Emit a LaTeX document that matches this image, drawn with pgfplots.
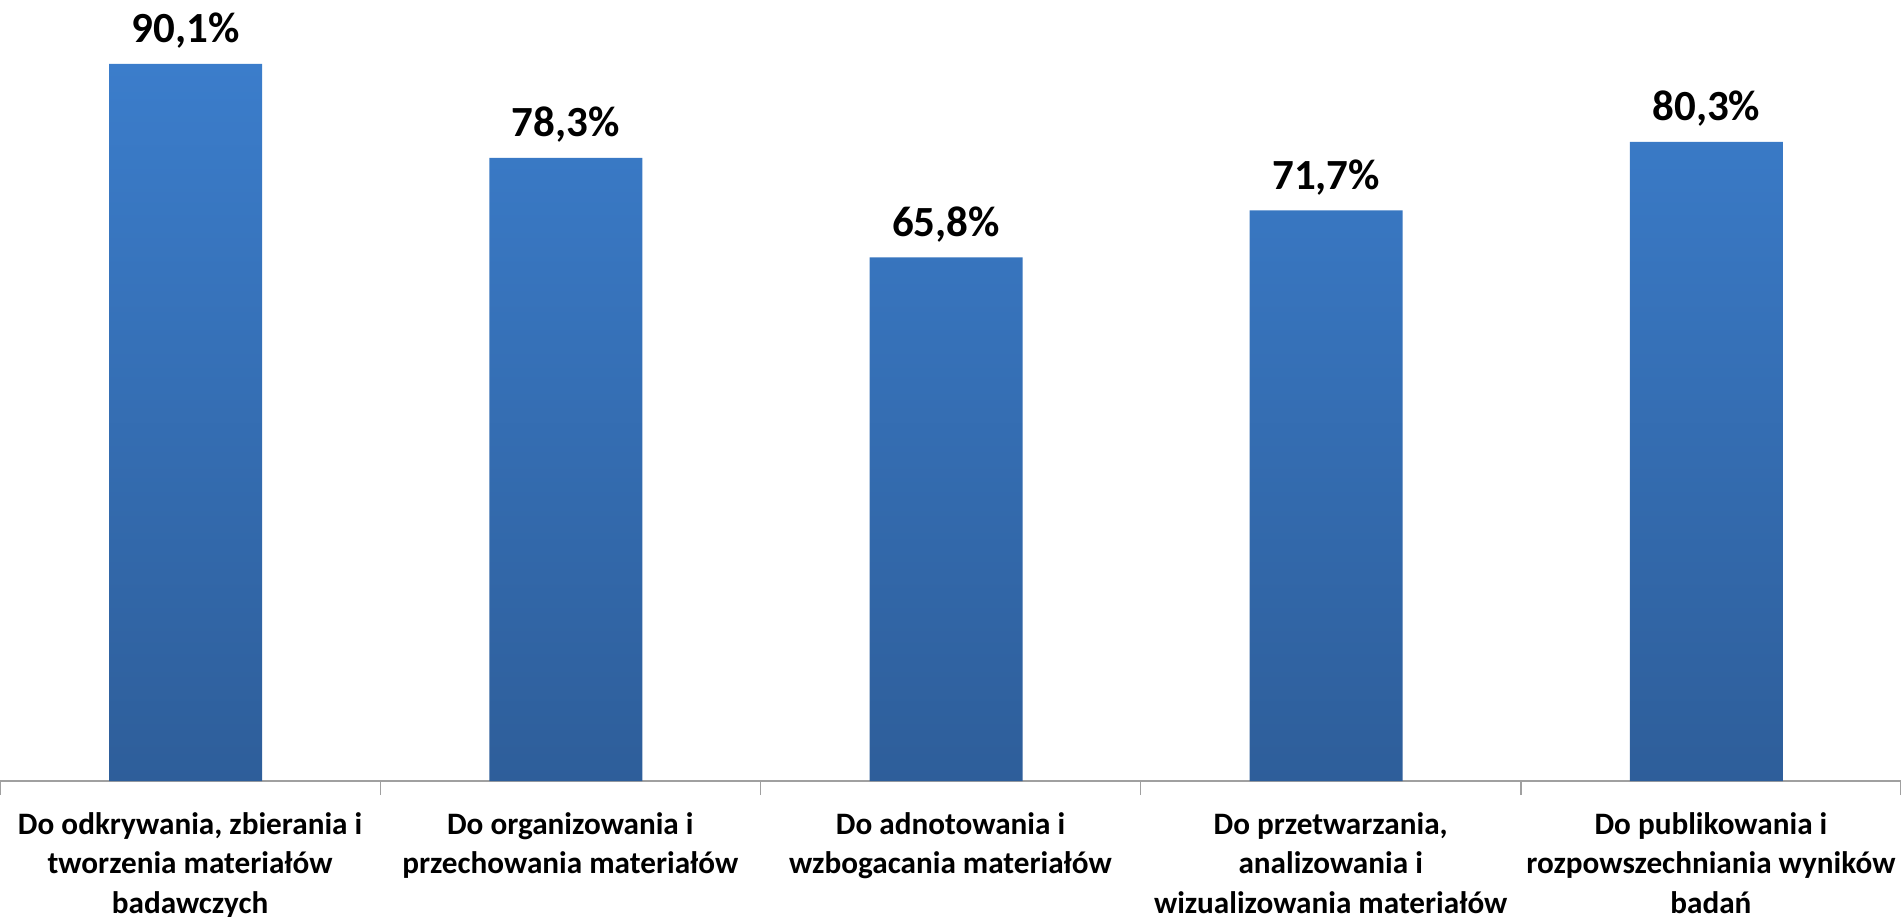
\documentclass[border=0pt]{standalone}
\usepackage{pgfplots}
\pgfplotsset{compat=1.18}
\usepackage{fontspec}
\setmainfont{Carlito}
\definecolor{bartop}{RGB}{59,125,203}
\definecolor{barbot}{RGB}{46,94,154}
\definecolor{axisgray}{RGB}{160,160,160}
\begin{document}
\begin{tikzpicture}
\begin{axis}[
  width=950.5pt, height=390.5pt, scale only axis,
  xmin=-0.5, xmax=4.5, ymin=0, ymax=98.14,
  hide y axis,
  axis x line=bottom,
  x axis line style={-, draw=axisgray, line width=0.7pt},
  xtick={0,1,2,3,4},
  xticklabels={{Do odkrywania, zbierania i\\tworzenia materiałów\\badawczych},
               {Do organizowania i\\przechowania materiałów},
               {Do adnotowania i\\wzbogacania materiałów},
               {Do przetwarzania,\\analizowania i\\wizualizowania materiałów},
               {Do publikowania i\\rozpowszechniania wyników\\badań}},
  minor xtick={-0.5,0.5,1.5,2.5,3.5,4.5},
  major tick length=0pt, minor tick length=7pt,
  xtick align=outside,
  tick style={draw=axisgray, line width=0.7pt},
  xticklabel style={align=center, font=\fontsize{15.6}{19.75}\selectfont\bfseries, anchor=north, inner sep=0pt, yshift=-15.5pt},
  ybar, bar width=76.5pt, bar shift=-2.25pt,
  point meta=y,
  /pgf/number format/assume math mode=true,
  nodes near coords={\pgfmathprintnumber[fixed,fixed zerofill,precision=1,use comma]{\pgfplotspointmeta}\%},
  nodes near coords style={font=\fontsize{21.5}{25}\selectfont\bfseries, anchor=base, yshift=10.5pt, inner sep=0pt},
  clip=false,
]
\addplot[draw=none, top color=bartop, bottom color=barbot] coordinates {(0,90.1) (1,78.3) (2,65.8) (3,71.7) (4,80.3)};
\end{axis}
\pgfresetboundingbox
\path (0,-67.5pt) rectangle (950.5pt,390.5pt);
\end{tikzpicture}
\end{document}
